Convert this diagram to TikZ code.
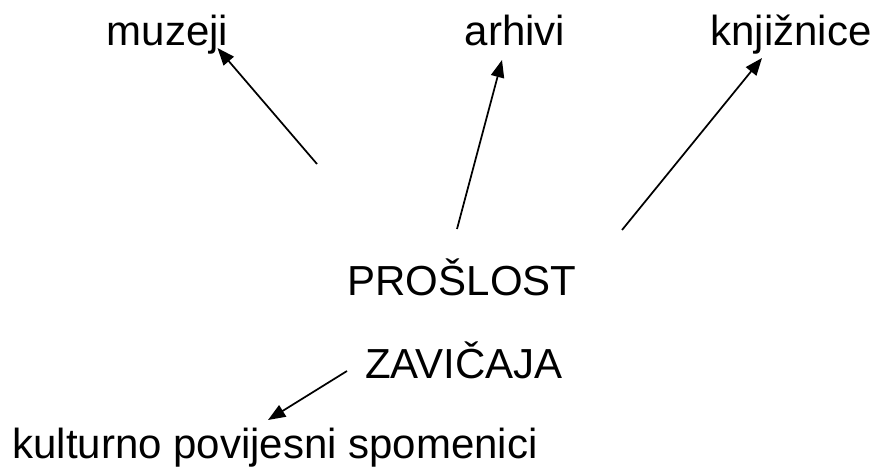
\documentclass[tikz,border=0pt]{standalone}
\usepackage{fontspec}
\setmainfont{Liberation Sans}
\usetikzlibrary{arrows.meta,positioning}

\tikzset{
  word/.style={inner sep=0pt,anchor=base,font=\fontsize{31.5}{36}\selectfont},
  link/.style={-{Triangle[length=13pt,width=10pt]},line width=1.3pt}
}

\begin{document}
\begin{tikzpicture}[x=0.75pt,y=-0.75pt]
   \useasboundingbox (0,0) rectangle (874,471);
   \node [word] (muzeji)    at (167.5,45) {muzeji};
   \node [word] (arhivi)    at (515,45)   {arhivi};
   \node [word] (knjiznice) at (791,45)   {knji\v{z}nice};
   \node [word] (proslost)  at (462,295)  {PRO\v{S}LOST};
   \node [word] (zavicaja)  at (464,378)  {ZAVI\v{C}AJA};
   \node [word] (spomenici) at (275,458)  {kulturno povijesni spomenici};
   % strelice
   \draw [link] ([shift={(-145,-131)}]proslost.base) -- ([shift={(50,3)}]muzeji.base);
   \draw [link] ([shift={(-5,-66)}]proslost.base)    -- ([shift={(-13,15)}]arhivi.base);
   \draw [link] ([shift={(160,-65)}]proslost.base)   -- ([shift={(-29,13)}]knjiznice.base);
   \draw [link] ([shift={(-117,-7)}]zavicaja.base)   -- ([shift={(-7,-38)}]spomenici.base);
\end{tikzpicture}
\end{document}
